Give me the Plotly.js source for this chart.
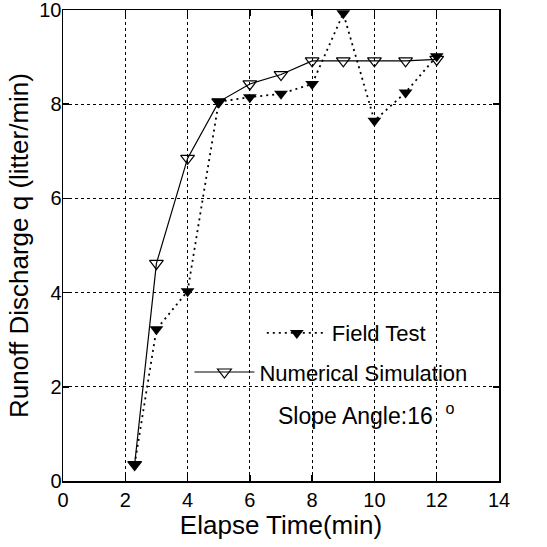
<!DOCTYPE html>
<html>
<head>
<meta charset="utf-8">
<script src="https://cdn.plot.ly/plotly-3.0.1.min.js"></script>
<style>html,body{margin:0;padding:0;background:#fff;}#chart{width:547px;height:547px;}</style>
</head>
<body>
<div id="chart"></div>
<script>
// Elapse time (min)
const fieldTime = [2.3, 3, 4, 5, 6, 7, 8, 9, 10, 11, 12];
const fieldQ    = [0.35, 3.22, 4.03, 8.05, 8.15, 8.22, 8.43, 9.93, 7.65, 8.25, 9.02];
const simTime   = [2.3, 3, 4, 5, 6, 7, 8, 9, 10, 11, 12];
const simQ      = [0.35, 4.62, 6.85, 8.05, 8.43, 8.63, 8.92, 8.92, 8.92, 8.92, 8.95];
const xTicks = [0, 2, 4, 6, 8, 10, 12, 14];
const yTicks = [0, 2, 4, 6, 8, 10];

const FONT = "Liberation Sans, Arial, Helvetica, sans-serif";

const traces = [
  {
    x: simTime, y: simQ, mode: 'lines+markers', name: 'Numerical Simulation',
    line: {color: '#000', width: 1.2},
    marker: {symbol: 'triangle-down-open', size: 12, color: '#000', line: {width: 1.2, color: '#000'}},
    legend: 'legend2'
  },
  {
    x: fieldTime, y: fieldQ, mode: 'lines+markers', name: 'Field Test',
    line: {color: '#000', width: 1.8, dash: '2px,4px'},
    marker: {symbol: 'triangle-down', size: 12, color: '#000'},
    legend: 'legend'
  }
];

const axisCommon = {
  showline: true, mirror: 'ticks', linecolor: '#000', linewidth: 1.5,
  ticks: 'inside', ticklen: 6, tickcolor: '#000', tickwidth: 1.5,
  showgrid: true, gridcolor: '#000', gridwidth: 1, griddash: 'dot',
  zeroline: false, ticklabeloverflow: 'allow',
  tickfont: {family: FONT, size: 20, color: '#000'}
};

const layout = {
  width: 547, height: 547,
  margin: {l: 63, r: 48, t: 10, b: 66},
  paper_bgcolor: '#fff', plot_bgcolor: '#fff',
  font: {family: FONT, color: '#000'},
  xaxis: Object.assign({}, axisCommon, {
    range: [0, 14], tickvals: xTicks, ticktext: xTicks.map(String),
    title: {text: 'Elapse Time(min)', font: {family: FONT, size: 26, color: '#000'}, standoff: 6}
  }),
  yaxis: Object.assign({}, axisCommon, {
    range: [0, 10], tickvals: yTicks, ticktext: yTicks.map(String),
    ticklabelstandoff: -4,
    title: {text: 'Runoff Discharge q (litter/min)', font: {family: FONT, size: 26, color: '#000'}, standoff: 3}
  }),
  legend: {
    x: 0.456, y: 0.314, xanchor: 'left', yanchor: 'middle',
    bgcolor: 'rgba(0,0,0,0)', borderwidth: 0, itemwidth: 60,
    font: {family: FONT, size: 22, color: '#000'}
  },
  legend2: {
    x: 0.29, y: 0.231, xanchor: 'left', yanchor: 'middle',
    bgcolor: 'rgba(0,0,0,0)', borderwidth: 0, itemwidth: 60,
    font: {family: FONT, size: 22, color: '#000'}
  },
  showlegend: true,
  annotations: [{
    xref: 'paper', yref: 'paper', x: 0.695, y: 0.142, xanchor: 'center', yanchor: 'middle',
    text: 'Slope Angle:16&nbsp;&nbsp;<sup>o</sup>', showarrow: false,
    font: {family: FONT, size: 23, color: '#000'}
  }]
};

Plotly.newPlot('chart', traces, layout, {displayModeBar: false, staticPlot: true});
</script>
</body>
</html>
